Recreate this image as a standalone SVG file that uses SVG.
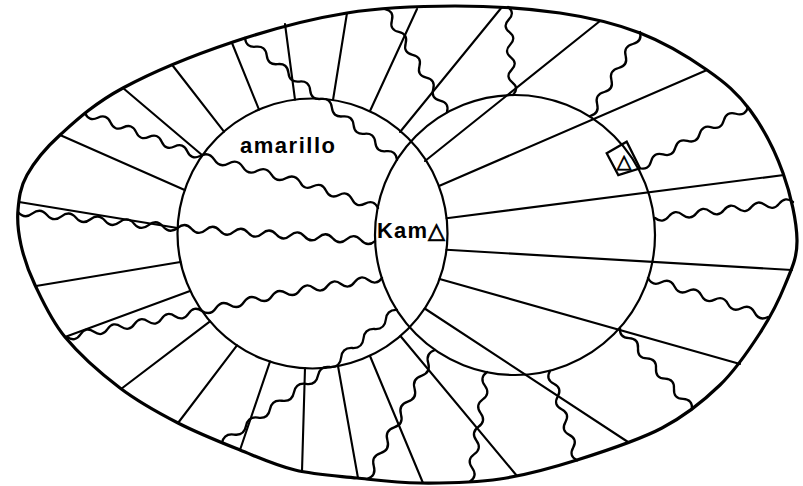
<svg xmlns="http://www.w3.org/2000/svg" width="803" height="486" viewBox="0 0 803 486">
<style>
.outer{fill:none;stroke:#000;stroke-width:3.2;stroke-linejoin:round}
.circ{fill:none;stroke:#000;stroke-width:2.2}
.ln{fill:none;stroke:#000;stroke-width:2.1;stroke-linecap:round}
.wv{fill:none;stroke:#000;stroke-width:2.3;stroke-linecap:round;stroke-linejoin:round}
.lbl{font-family:"Liberation Sans","DejaVu Sans",Arial,sans-serif;font-weight:bold;font-size:22px;fill:#000}
.tri{font-family:"DejaVu Sans","Liberation Sans",sans-serif;font-weight:bold;stroke:#000;stroke-width:0.9}
.sym{font-family:"DejaVu Sans","Liberation Sans",sans-serif;font-weight:bold;font-size:19px;fill:#000;stroke:#000;stroke-width:0.8}
</style>
<rect width="803" height="486" fill="#fff"/>
<g id="outer-boundary">
<path class="outer" d="M18,210 C19,198.3 20,187.5 27,175 C34,162.5 44,149.5 60,135 C76,120.5 94.2,103.5 123,88 C151.8,72.5 195.7,54.5 233,42 C270.3,29.5 310,19 347,13 C384,7 419.5,6 455,6 C490.5,6 529.2,8.5 560,13 C590.8,17.5 615.5,23.5 640,33 C664.5,42.5 688.7,57.2 707,70 C725.3,82.8 737.3,92.8 750,110 C762.7,127.2 775.2,151.3 783,173 C790.8,194.7 796.7,221.3 797,240 C797.3,258.7 791.2,269.5 785,285 C778.8,300.5 770.8,316.3 760,333 C749.2,349.7 736.3,369.2 720,385 C703.7,400.8 685.8,415.5 662,428 C638.2,440.5 604,451.5 577,460 C550,468.5 526.2,475.2 500,479 C473.8,482.8 443.8,483.2 420,483 C396.2,482.8 377.8,480.2 357,478 C336.2,475.8 314.5,474.7 295,470 C275.5,465.3 259.5,457.8 240,450 C220.5,442.2 198,433.3 178,423 C158,412.7 138.8,402.3 120,388 C101.2,373.7 79.2,354.2 65,337 C50.8,319.8 42.3,300.3 35,285 C27.7,269.7 23.8,257.5 21,245 C18.2,232.5 17,221.7 18,210 Z"/>
</g>
<g id="circle-amarillo">
<circle class="circ" cx="312.5" cy="233.5" r="135"/>
</g>
<g id="circle-right">
<circle class="circ" cx="515" cy="235" r="140"/>
</g>
<g id="straight-lines">
<line class="ln" x1="502" y1="7" x2="400" y2="132"/>
<line class="ln" x1="600" y1="21" x2="425" y2="161"/>
<line class="ln" x1="707" y1="70" x2="439" y2="186"/>
<line class="ln" x1="784" y1="175" x2="446.6" y2="218.2"/>
<line class="ln" x1="792" y1="270" x2="446.5" y2="249.8"/>
<line class="ln" x1="740" y1="364" x2="439.6" y2="279"/>
<line class="ln" x1="628" y1="442" x2="424.7" y2="308.5"/>
<line class="ln" x1="517" y1="476" x2="400.4" y2="336"/>
<line class="ln" x1="423" y1="483" x2="370" y2="356"/>
<line class="ln" x1="358" y1="478" x2="338" y2="366"/>
<line class="ln" x1="302" y1="471" x2="305" y2="368"/>
<line class="ln" x1="240" y1="450" x2="270" y2="361.6"/>
<line class="ln" x1="178" y1="423" x2="237" y2="345.4"/>
<line class="ln" x1="121" y1="389" x2="210" y2="321.4"/>
<line class="ln" x1="65" y1="337" x2="190" y2="291"/>
<line class="ln" x1="36" y1="286" x2="180.5" y2="262"/>
<line class="ln" x1="19" y1="202" x2="177.6" y2="228"/>
<line class="ln" x1="60" y1="135" x2="184.7" y2="190"/>
<line class="ln" x1="123" y1="88" x2="202" y2="155"/>
<line class="ln" x1="173" y1="66" x2="224" y2="131.6"/>
<line class="ln" x1="232" y1="43" x2="259" y2="109.6"/>
<line class="ln" x1="285" y1="24" x2="295" y2="99.6"/>
<line class="ln" x1="347" y1="13" x2="333" y2="100"/>
<line class="ln" x1="417" y1="9" x2="370" y2="111"/>
</g>
<g id="wavy-lines">
<path class="wv" d="M85,113 q3.94,8.94 12.78,4.78 t12.78,4.78 t12.78,4.78 t12.78,4.78 t12.78,4.78 t12.78,4.78 t12.78,4.78 t12.78,4.78 t12.78,4.78 q8.89,-4.9 14.29,3.71 t14.29,3.71 t14.29,3.71 t14.29,3.71 t14.29,3.71 t14.29,3.71 t14.29,3.71 q4.29,8.8 13,4.33 t13,4.33 t13,4.33 t13,4.33 t13,4.33 t13,4.33"/>
<path class="wv" d="M18,212 q6.55,7.68 14.51,1.455 t14.51,1.455 t14.51,1.455 t14.51,1.455 t14.51,1.455 t14.51,1.455 t14.51,1.455 t14.51,1.455 t14.51,1.455 t14.51,1.455 t14.51,1.455 q7.51,-6.51 14.1,0.929 t14.1,0.929 t14.1,0.929 t14.1,0.929 t14.1,0.929 t14.1,0.929 t14.1,0.929 t14.1,0.929 t14.1,0.929 t14.1,0.929 t14.1,0.929 t14.1,0.929 t14.1,0.929 t14.1,0.929"/>
<path class="wv" d="M67,337 q8.07,5.56 13.5,-2.6 t13.5,-2.6 t13.5,-2.6 t13.5,-2.6 t13.5,-2.6 t13.5,-2.6 t13.5,-2.6 t13.5,-2.6 t13.5,-2.6 t13.5,-2.6 q8.46,5.33 14,-3 t14,-3 t14,-3 t14,-3 t14,-3 t14,-3 t14,-3 q5.81,-7.91 13.67,-2 t13.67,-2 t13.67,-2 t13.67,-2 t13.67,-2 t13.67,-2"/>
<path class="wv" d="M397,310 q-10.1,-0.57 -11.17,9.5 t-11.17,9.5 t-11.17,9.5 t-11.17,9.5 t-11.17,9.5 t-11.17,9.5 q-10.03,-1.5 -12,8.44 t-12,8.44 t-12,8.44 t-12,8.44 t-12,8.44 t-12,8.44 t-12,8.44 t-12,8.44 t-12,8.44"/>
<path class="wv" d="M245,38 q1.06,9.81 10.86,8.71 t10.86,8.71 t10.86,8.71 t10.86,8.71 t10.86,8.71 t10.86,8.71 t10.86,8.71 t10.86,8.71 t10.86,8.71 t10.86,8.71 t10.86,8.71 t10.86,8.71 t10.86,8.71 t10.86,8.71"/>
<path class="wv" d="M447,112 q2.54,-9.33 -6.89,-11.44 t-6.89,-11.44 t-6.89,-11.44 t-6.89,-11.44 t-6.89,-11.44 t-6.89,-11.44 t-6.89,-11.44 t-6.89,-11.44 t-6.89,-11.44"/>
<path class="wv" d="M513,95 q6.61,-6.68 -0.714,-12.57 t-0.714,-12.57 t-0.714,-12.57 t-0.714,-12.57 t-0.714,-12.57 t-0.714,-12.57 t-0.714,-12.57"/>
<path class="wv" d="M590,116 q9.56,-2.43 7.14,-12 t7.14,-12 t7.14,-12 t7.14,-12 t7.14,-12 t7.14,-12 t7.14,-12"/>
<path class="wv" d="M639,168 q9.48,2.71 12.11,-6.78 t12.11,-6.78 t12.11,-6.78 t12.11,-6.78 t12.11,-6.78 t12.11,-6.78 t12.11,-6.78 t12.11,-6.78 t12.11,-6.78"/>
<path class="wv" d="M655,218 q7.7,6.13 13.8,-1.6 t13.8,-1.6 t13.8,-1.6 t13.8,-1.6 t13.8,-1.6 t13.8,-1.6 t13.8,-1.6 t13.8,-1.6 t13.8,-1.6 t13.8,-1.6"/>
<path class="wv" d="M648,278 q4.51,8.81 13.33,4.33 t13.33,4.33 t13.33,4.33 t13.33,4.33 t13.33,4.33 t13.33,4.33 t13.33,4.33 t13.33,4.33 t13.33,4.33"/>
<path class="wv" d="M620,328 q-0.72,9.7 9,10.13 t9,10.13 t9,10.13 t9,10.13 t9,10.13 t9,10.13 t9,10.13 t9,10.13"/>
<path class="wv" d="M550,371 q-4.75,8.41 3.86,12.77 t3.86,12.77 t3.86,12.77 t3.86,12.77 t3.86,12.77 t3.86,12.77 t3.86,12.77"/>
<path class="wv" d="M487,372 q-7.97,5.77 -2.125,13.69 t-2.125,13.69 t-2.125,13.69 t-2.125,13.69 t-2.125,13.69 t-2.125,13.69 t-2.125,13.69 t-2.125,13.69"/>
<path class="wv" d="M435,350 q-9.58,3.19 -6.8,12.9 t-6.8,12.9 t-6.8,12.9 t-6.8,12.9 t-6.8,12.9 t-6.8,12.9 t-6.8,12.9 t-6.8,12.9 t-6.8,12.9 t-6.8,12.9"/>
</g>
<g id="marker-box">
<polygon points="606.7,153.3 626.7,141.7 640,168.3 618.3,175" fill="none" stroke="#000" stroke-width="2.3" stroke-linejoin="miter"/>
<text class="sym" x="624" y="168" text-anchor="middle">△</text>
</g>
<g id="labels">
<text class="lbl" x="240" y="153" textLength="95" lengthAdjust="spacing">amarillo</text>
<text class="lbl" x="377" y="238" textLength="68" lengthAdjust="spacing">Kam<tspan class="tri">△</tspan></text>
</g>
</svg>
